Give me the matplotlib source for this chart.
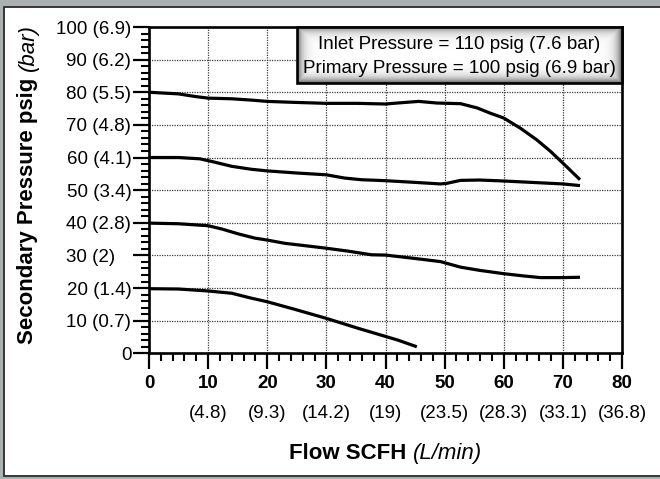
"""Secondary pressure vs flow curves for a two-stage regulator."""
import numpy as np
import matplotlib
matplotlib.use("Agg")
import matplotlib.pyplot as plt
from matplotlib.patches import Rectangle
from matplotlib.ticker import MultipleLocator

plt.rcParams['font.family'] = ['Liberation Sans', 'DejaVu Sans']

# Data (flow SCFH, secondary pressure psig)
flow_80 = [0, 5, 7.8, 10, 14, 17.3, 20, 24.6, 30, 35.3, 40, 42, 45.6, 48.7,
           52.7, 55.5, 57.7, 60, 62.8, 65.6, 67.9, 70, 72.9]
psig_80 = [80, 79.5, 78.7, 78.2, 78, 77.6, 77.2, 76.9, 76.6, 76.6, 76.4, 76.7,
           77.2, 76.7, 76.5, 75.2, 73.6, 72.1, 69, 65.4, 61.9, 58.3, 53.2]

flow_60 = [0, 5, 8.6, 10.6, 14, 17.3, 20, 24.6, 30, 33.1, 35.9, 40, 44.8,
           49.3, 50.4, 52.7, 56, 60, 64.5, 70, 72.9]
psig_60 = [60, 60, 59.6, 58.8, 57.3, 56.4, 55.9, 55.3, 54.7, 53.7, 53.2, 52.9,
           52.4, 51.9, 52.1, 53, 53.1, 52.8, 52.4, 51.9, 51.4]

flow_40 = [0, 5, 10, 12.3, 15.1, 17.9, 20, 23, 26.3, 30, 33.7, 37.6, 40,
           44.8, 49.3, 52.7, 56, 60, 63.4, 66.2, 70, 72.9]
psig_40 = [39.9, 39.7, 39.1, 38.1, 36.6, 35.3, 34.7, 33.7, 33, 32.2, 31.3,
           30.2, 30.1, 29.1, 28.1, 26.4, 25.4, 24.4, 23.7, 23.2, 23.2, 23.3]

flow_20 = [0, 5, 10, 14, 17.3, 20, 24.6, 30, 35.3, 39.2, 42, 45.3]
psig_20 = [19.8, 19.7, 19.1, 18.4, 16.9, 15.8, 13.5, 10.7, 7.7, 5.6, 4.1, 2.0]

x_ticks = [0, 10, 20, 30, 40, 50, 60, 70, 80]
x_lpm = ["", "(4.8)", "(9.3)", "(14.2)", "(19)", "(23.5)", "(28.3)",
         "(33.1)", "(36.8)"]
y_ticks = [0, 10, 20, 30, 40, 50, 60, 70, 80, 90, 100]
y_labels = ["0", "10 (0.7)", "20 (1.4)", "30 (2)   ", "40 (2.8)", "50 (3.4)",
            "60 (4.1)", "70 (4.8)", "80 (5.5)", "90 (6.2)", "100 (6.9)"]
note_lines = ["Inlet Pressure = 110 psig (7.6 bar)",
              "Primary Pressure = 100 psig (6.9 bar)"]

FS = 13.5
W, H = 660, 479
fig = plt.figure(figsize=(W / 100, H / 100), dpi=100, facecolor='#a9b1b1')

# white panel with dark border
fig.patches.append(Rectangle((4 / W, 1 - 476 / H), 1.0, (476 - 7) / H,
                             transform=fig.transFigure, facecolor='white',
                             edgecolor='#2a2a2a', linewidth=1.3, zorder=-10))

ax = fig.add_axes([149 / W, 1 - 353.3 / H, (622 - 149) / W, (353.3 - 27) / H])
ax.set_facecolor('white')

for fx, py in [(flow_80, psig_80), (flow_60, psig_60),
               (flow_40, psig_40), (flow_20, psig_20)]:
    ax.plot(fx, py, color='black', lw=2.3, solid_capstyle='butt',
            solid_joinstyle='round', zorder=3)

ax.set_xticks(x_ticks)
ax.set_xticklabels([str(v) for v in x_ticks], fontweight='bold', fontsize=FS)
ax.set_yticks(y_ticks)
ax.set_yticklabels(y_labels, fontsize=FS)
ax.xaxis.set_minor_locator(MultipleLocator(2))
ax.yaxis.set_minor_locator(MultipleLocator(2))
ax.tick_params(which='major', length=11.5, width=1.6, direction='out')
ax.tick_params(which='minor', length=6, width=1.5, direction='out')
ax.tick_params(axis='y', which='major', pad=1.2)
ax.tick_params(axis='x', which='major', pad=4)
ax.grid(True, which='major', color='#3c3c3c', lw=0.9, ls=(0, (1, 1)))
ax.set_axisbelow(True)
for sp in ax.spines.values():
    sp.set_linewidth(1.9)

# second row of x labels in L/min
for v, lab in zip(x_ticks, x_lpm):
    ax.text(v, -0.183, lab, transform=ax.get_xaxis_transform(),
            ha='center', va='center', fontsize=FS)

# note box with soft inner shading
bx0, by0 = 0.313, 0.828
ny, nx = 60, 330
yy, xx = np.mgrid[0:ny, 0:nx]
d = np.minimum(np.minimum(yy, ny - 1 - yy), np.minimum(xx, nx - 1 - xx))
shade = 1 - 0.6 * np.exp(-d / 5.0)
ax.imshow(shade, cmap='gray', vmin=0, vmax=1, extent=(bx0, 1, by0, 1),
          transform=ax.transAxes, aspect='auto', zorder=4, clip_on=False)
ax.add_patch(Rectangle((bx0, by0), 1 - bx0, 1 - by0, transform=ax.transAxes,
                       facecolor='none', edgecolor='black', lw=1.9,
                       zorder=5, clip_on=False))
ax.text(0.656, 0.945, note_lines[0], transform=ax.transAxes, ha='center',
        va='center', fontsize=FS, zorder=6)
ax.text(0.656, 0.874, note_lines[1], transform=ax.transAxes, ha='center',
        va='center', fontsize=FS, zorder=6)
ax.set_xlim(0, 80)
ax.set_ylim(0, 100)

# axis titles: bold part followed by italic unit part
renderer = fig.canvas.get_renderer()


def two_part_label(cx, cy, bold_txt, ital_txt, vertical=False):
    rot = 90 if vertical else 0
    t1 = fig.text(0, 0, bold_txt, fontsize=16, fontweight='bold', rotation=rot)
    t2 = fig.text(0, 0, ital_txt, fontsize=16, fontstyle='italic', rotation=rot)
    e1 = t1.get_window_extent(renderer)
    e2 = t2.get_window_extent(renderer)
    if vertical:
        total = e1.height + e2.height
        y0 = cy - total / 2
        t1.set_position((cx / W, y0 / H))
        t2.set_position((cx / W, (y0 + e1.height) / H))
        for t in (t1, t2):
            t.set_ha('center')
            t.set_va('bottom')
    else:
        total = e1.width + e2.width
        x0 = cx - total / 2
        t1.set_position((x0 / W, cy / H))
        t2.set_position(((x0 + e1.width) / W, cy / H))
        for t in (t1, t2):
            t.set_ha('left')
            t.set_va('center_baseline')


two_part_label(385.5, H - 451, "Flow SCFH ", "(L/min)")
two_part_label(28, H - 184, "Secondary Pressure psig ", "(bar)", vertical=True)

fig.savefig("out.png", dpi=100, facecolor=fig.get_facecolor())
